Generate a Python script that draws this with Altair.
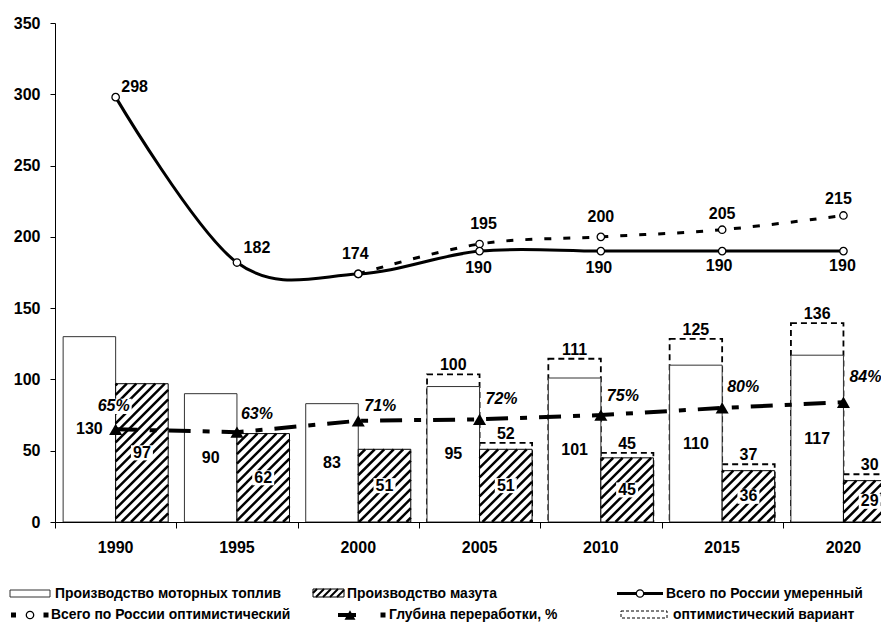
import math
import altair as alt
import pandas as pd

# ---------------- data ----------------
years = ["1990", "1995", "2000", "2005", "2010", "2015", "2020"]
motor = [130, 90, 83, 95, 101, 110, 117]            # Производство моторных топлив
mazut = [97, 62, 51, 51, 45, 36, 29]                # Производство мазута
opt_years = ["2005", "2010", "2015", "2020"]
motor_opt = [100, 111, 125, 136]                    # оптимистический вариант (моторные топлива)
mazut_opt = [52, 45, 37, 30]                        # оптимистический вариант (мазут)
total_mod = [298, 182, 174, 190, 190, 190, 190]     # Всего по России умеренный
total_opt_years = ["2000", "2005", "2010", "2015", "2020"]
total_opt = [174, 195, 200, 205, 215]               # Всего по России оптимистический
depth = [65, 63, 71, 72, 75, 80, 84]                # Глубина переработки, %

legend_texts = [
    "Производство моторных топлив",
    "Производство мазута",
    "Всего по России умеренный",
    "Всего по России оптимистический",
    "Глубина переработки, %",
    "оптимистический вариант",
]

# ---------------- layout / style ----------------
BAND = 121.3
W, H = 826, 499
XMAX = W / BAND
YMAX = 350
PY = H / YMAX
OX, OY = 55, 522          # page px of the plot's left edge and of y = 0
FONT = "Liberation Sans"
NUM = 16
B0, B1 = 0.067, 0.933     # bar pair inside each band

xs = alt.Scale(domain=[0, XMAX], nice=False, zero=False)
ys = alt.Scale(domain=[0, YMAX], nice=False, zero=False)
XA = alt.Axis(values=list(range(0, 7)), labels=False, tickSize=6, grid=False, title=None,
              domainColor="black", tickColor="black", domainWidth=1)
YA = alt.Axis(values=list(range(0, 351, 50)), tickSize=5, labelPadding=10, grid=False, title=None,
              domainColor="black", tickColor="black", labelFont=FONT, labelFontSize=NUM,
              labelFontWeight="bold", labelColor="black")


def X(f):
    return alt.X(f, type="quantitative", scale=xs, axis=XA)


def Y(f):
    return alt.Y(f, type="quantitative", scale=ys, axis=YA)


idx = {y: i for i, y in enumerate(years)}

bars = pd.DataFrame({
    "year": years,
    "wx": [i + B0 for i in range(7)], "wx2": [i + 0.5 for i in range(7)],
    "hx": [i + 0.5 for i in range(7)], "hx2": [i + B1 for i in range(7)],
    "wc": [i + (B0 + 0.5) / 2 for i in range(7)], "hc": [i + (0.5 + B1) / 2 for i in range(7)],
    "motor": motor, "mazut": mazut, "zero": [0] * 7,
    "motor_half": [v / 2 for v in motor], "mazut_half": [v / 2 for v in mazut],
    "motor_t": [str(v) for v in motor], "mazut_t": [str(v) for v in mazut],
})
opt = pd.DataFrame({
    "year": opt_years,
    "wx": [idx[y] + B0 for y in opt_years], "wx2": [idx[y] + 0.5 for y in opt_years],
    "hx": [idx[y] + 0.5 for y in opt_years], "hx2": [idx[y] + B1 for y in opt_years],
    "wc": [idx[y] + (B0 + 0.5) / 2 for y in opt_years], "hc": [idx[y] + (0.5 + B1) / 2 for y in opt_years],
    "motor": motor_opt, "mazut": mazut_opt, "zero": [0] * 4,
    "motor_t": [str(v) for v in motor_opt], "mazut_t": [str(v) for v in mazut_opt],
})
lines = pd.DataFrame({"year": years, "x": [i + 0.5 for i in range(7)], "mod": total_mod,
                      "depth": depth})
optl = pd.DataFrame({"year": total_opt_years, "x": [idx[y] + 0.5 for y in total_opt_years],
                     "v": total_opt})


def hatch(x0, x1, b0, b1, period=9.5):
    """45-degree '/' hatch segments for a rectangle given in plot pixels (b measured upward)."""
    out = []
    cmin, cmax = x0 - b1, x1 - b0
    k = math.floor(cmin / period)
    while k * period <= cmax:
        c = k * period
        lo = max(b0, x0 - c)
        hi = min(b1, x1 - c)
        if hi - lo > 0.6:
            out.append(dict(x=(c + lo) / BAND, y=lo / PY, x2=(c + hi) / BAND, y2=hi / PY))
        k += 1
    return out


hrows = []
for i, v in enumerate(mazut):
    hrows += hatch((i + 0.5) * BAND, (i + B1) * BAND, 0, v * PY)
hatch_df = pd.DataFrame(hrows)

layers = []

# optimistic dashed boxes
layers.append(alt.Chart(opt).mark_rect(fill="white", stroke="black", strokeWidth=1.8,
                                       strokeDash=[6, 4], yOffset=-5, clip=True)
              .encode(x=X("wx"), x2="wx2", y=Y("motor"), y2="zero"))
layers.append(alt.Chart(opt).mark_rect(fill="white", stroke="black", strokeWidth=1.8,
                                       strokeDash=[6, 4], yOffset=-5, clip=True)
              .encode(x=X("hx"), x2="hx2", y=Y("mazut"), y2="zero"))
# white bars
layers.append(alt.Chart(bars).mark_rect(fill="white", stroke="#333333", strokeWidth=1, clip=True)
              .encode(x=X("wx"), x2="wx2", y=Y("motor"), y2="zero"))
# hatched bars
layers.append(alt.Chart(bars).mark_rect(fill="white", strokeWidth=0, clip=True)
              .encode(x=X("hx"), x2="hx2", y=Y("mazut"), y2="zero"))
layers.append(alt.Chart(hatch_df).mark_rule(color="black", strokeWidth=2.5, clip=True)
              .encode(x=X("x"), x2="x2", y=Y("y"), y2="y2"))
layers.append(alt.Chart(bars).mark_rect(fillOpacity=0, fill="white", stroke="black", strokeWidth=1,
                                        clip=True)
              .encode(x=X("hx"), x2="hx2", y=Y("mazut"), y2="zero"))

# depth line
layers.append(alt.Chart(lines).mark_line(color="black", strokeWidth=4, strokeDash=[22, 12, 7, 12])
              .encode(x=X("x"), y=Y("depth")))
layers.append(alt.Chart(lines).mark_point(shape="triangle-up", filled=True, color="black", size=170,
                                          opacity=1)
              .encode(x=X("x"), y=Y("depth")))
# totals
layers.append(alt.Chart(optl).mark_line(color="black", strokeWidth=3, strokeDash=[7, 12],
                                        interpolate="cardinal")
              .encode(x=X("x"), y=Y("v")))
layers.append(alt.Chart(lines).mark_line(color="black", strokeWidth=3, interpolate="cardinal")
              .encode(x=X("x"), y=Y("mod")))
layers.append(alt.Chart(optl).mark_point(shape="circle", filled=True, fill="white", stroke="black",
                                         strokeWidth=1.3, size=55, opacity=1)
              .encode(x=X("x"), y=Y("v")))
layers.append(alt.Chart(lines).mark_point(shape="circle", filled=True, fill="white", stroke="black",
                                          strokeWidth=1.3, size=55, opacity=1)
              .encode(x=X("x"), y=Y("mod")))


def text_layer(df, xf, yf, tf, dx=0, dy=0, size=NUM, style="normal", align="center"):
    return (alt.Chart(df).mark_text(dx=dx, dy=dy, font=FONT, fontSize=size, fontWeight="bold",
                                    fontStyle=style, align=align, baseline="middle", color="black")
            .encode(x=X(xf), y=Y(yf), text=alt.Text(tf, type="nominal")))


BOX = "M-1.1,-0.75H1.1V0.75H-1.1Z"
PBOX = "M-1,-0.42H1V0.42H-1Z"

# bar value labels
layers.append(text_layer(bars, "wc", "motor_half", "motor_t"))
layers.append(alt.Chart(bars).mark_point(shape=BOX, filled=True, fill="white", strokeWidth=0,
                                         size=400, opacity=1)
              .encode(x=X("hc"), y=Y("mazut_half")))
layers.append(text_layer(bars, "hc", "mazut_half", "mazut_t"))
layers.append(text_layer(opt, "wc", "motor", "motor_t", dy=-14))
layers.append(text_layer(opt, "hc", "mazut", "mazut_t", dy=-14))

# total labels (offsets in px per point)
mod_off = {"1990": (19, -10), "1995": (20, -15), "2000": (-3, -20), "2005": (-1, 17),
           "2010": (-2, 17), "2015": (-3, 15), "2020": (-1, 15)}
opt_off = {"2005": (4, -20), "2010": (0, -20), "2015": (0, -16), "2020": (-5, -16)}
pct_off = {"1990": (-2, -23), "1995": (20, -18), "2000": (22, -15), "2005": (22, -20),
           "2010": (22, -19), "2015": (21, -21), "2020": (22, -25)}

for i, y in enumerate(years):
    d = pd.DataFrame({"x": [i + 0.5], "v": [total_mod[i]], "t": [str(total_mod[i])]})
    ox, oy = mod_off[y]
    layers.append(text_layer(d, "x", "v", "t", dx=ox, dy=oy))
for j, y in enumerate(total_opt_years):
    if y not in opt_off:
        continue
    d = pd.DataFrame({"x": [idx[y] + 0.5], "v": [total_opt[j]], "t": [str(total_opt[j])]})
    ox, oy = opt_off[y]
    layers.append(text_layer(d, "x", "v", "t", dx=ox, dy=oy))
for i, y in enumerate(years):
    d = pd.DataFrame({"x": [i + 0.5], "v": [depth[i]], "t": [f"{depth[i]}%"]})
    ox, oy = pct_off[y]
    layers.append(alt.Chart(d).mark_point(shape=PBOX, filled=True, fill="white", strokeWidth=0,
                                          size=1300, opacity=1, xOffset=ox, yOffset=oy)
                  .encode(x=X("x"), y=Y("v")))
    layers.append(text_layer(d, "x", "v", "t", dx=ox, dy=oy, style="italic"))

# year labels under the axis
yl = pd.DataFrame({"x": [i + 0.5 for i in range(7)], "zero": [0] * 7, "t": years})
layers.append(text_layer(yl, "x", "zero", "t", dy=26))

# ---------------- legend (drawn in page pixels converted to data units) ----------------


def lx(px):
    return (px - OX) / BAND


def ly(py):
    return (OY - py) / PY


R1, R2 = 593.5, 615
leg_text = pd.DataFrame({
    "x": [lx(55), lx(347), lx(666), lx(51), lx(389), lx(673)],
    "y": [ly(R1), ly(R1), ly(R1), ly(R2), ly(R2), ly(R2)],
    "t": legend_texts,
})
layers.append(alt.Chart(leg_text).mark_text(font=FONT, fontSize=13.9, fontWeight="bold",
                                            align="left", baseline="middle", color="black")
              .encode(x=X("x"), y=Y("y"), text="t:N"))

# white rect icon
wi = pd.DataFrame({"x": [lx(10)], "x2": [lx(50)], "y": [ly(597)], "y2": [ly(590)]})
layers.append(alt.Chart(wi).mark_rect(fill="white", stroke="#333333", strokeWidth=1)
              .encode(x=X("x"), x2="x2", y=Y("y"), y2="y2"))
# hatched icon
hi = pd.DataFrame({"x": [lx(313)], "x2": [lx(344)], "y": [ly(597)], "y2": [ly(589)]})
layers.append(alt.Chart(hi).mark_rect(fill="white", strokeWidth=0)
              .encode(x=X("x"), x2="x2", y=Y("y"), y2="y2"))
lh = pd.DataFrame(hatch(313 - OX, 344 - OX, OY - 597, OY - 589, period=7))
layers.append(alt.Chart(lh).mark_rule(color="black", strokeWidth=2)
              .encode(x=X("x"), x2="x2", y=Y("y"), y2="y2"))
layers.append(alt.Chart(hi).mark_rect(fillOpacity=0, fill="white", stroke="black", strokeWidth=1)
              .encode(x=X("x"), x2="x2", y=Y("y"), y2="y2"))
# moderate total icon
mi = pd.DataFrame({"x": [lx(617)], "x2": [lx(663)], "y": [ly(R1)], "c": [lx(640)]})
layers.append(alt.Chart(mi).mark_rule(color="black", strokeWidth=3)
              .encode(x=X("x"), x2="x2", y=Y("y")))
layers.append(alt.Chart(mi).mark_point(shape="circle", filled=True, fill="white", stroke="black",
                                       strokeWidth=1.3, size=55, opacity=1)
              .encode(x=X("c"), y=Y("y")))
# optimistic total icon
oi = pd.DataFrame({"x": [lx(13.5), lx(46)], "y": [ly(R2), ly(R2)]})
layers.append(alt.Chart(oi).mark_point(shape="square", filled=True, color="black", size=25, opacity=1)
              .encode(x=X("x"), y=Y("y")))
oc = pd.DataFrame({"x": [lx(30)], "y": [ly(R2)]})
layers.append(alt.Chart(oc).mark_point(shape="circle", filled=True, fill="white", stroke="black",
                                       strokeWidth=1.3, size=55, opacity=1)
              .encode(x=X("x"), y=Y("y")))
# depth icon
di = pd.DataFrame({"x": [lx(338)], "x2": [lx(356)], "y": [ly(R2)], "t": [lx(350)], "s": [lx(383)]})
layers.append(alt.Chart(di).mark_rule(color="black", strokeWidth=4)
              .encode(x=X("x"), x2="x2", y=Y("y")))
layers.append(alt.Chart(di).mark_point(shape="triangle-up", filled=True, color="black", size=120, opacity=1)
              .encode(x=X("t"), y=Y("y")))
layers.append(alt.Chart(di).mark_point(shape="square", filled=True, color="black", size=25, opacity=1)
              .encode(x=X("s"), y=Y("y")))
# optimistic variant icon
vi = pd.DataFrame({"x": [lx(621)], "x2": [lx(667)], "y": [ly(618)], "y2": [ly(611)]})
layers.append(alt.Chart(vi).mark_rect(fill="white", stroke="black", strokeWidth=1, strokeDash=[3, 2])
              .encode(x=X("x"), x2="x2", y=Y("y"), y2="y2"))

chart = alt.layer(*layers).properties(
    width=W, height=H,
    padding={"left": 47, "top": 15, "right": 0, "bottom": 104},
    autosize=alt.AutoSizeParams(type="none"),
).configure_view(stroke=None).configure_axis(labelFont=FONT)

chart.save("out.html", embed_options={"renderer": "svg", "actions": False})
